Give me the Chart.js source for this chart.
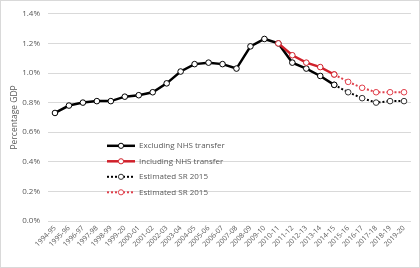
<!DOCTYPE html>
<html>
<head>
<meta charset="utf-8">
<script src="https://cdn.jsdelivr.net/npm/chart.js@4/dist/chart.umd.min.js"></script>
<style>
  html, body { margin: 0; padding: 0; background: #fff; }
  #wrap { width: 420px; height: 268px; box-sizing: border-box; border: 1px solid #d9d9d9; position: relative; }
  canvas { display: block; }
</style>
</head>
<body>
<div id="wrap"><canvas id="chart" width="418" height="266"></canvas></div>
<script>
// categorias (anos fiscais)
const anos = ['1994-95','1995-96','1996-97','1997-98','1998-99','1999-20','2000-01','2001-02','2002-03','2003-04',
  '2004-05','2005-06','2006-07','2007-08','2008-09','2009-10','2010-11','2011-12','2012-13','2013-14',
  '2014-15','2015-16','2016-17','2017-18','2018-19','2019-20'];

const semNHS = [0.73, 0.78, 0.80, 0.81, 0.81, 0.84, 0.85, 0.87, 0.93, 1.01,
  1.06, 1.07, 1.06, 1.03, 1.18, 1.23, 1.20, 1.07, 1.03, 0.98,
  0.92, null, null, null, null, null];
const comNHS = [null, null, null, null, null, null, null, null, null, null,
  null, null, null, null, null, null, 1.20, 1.12, 1.07, 1.04,
  0.99, null, null, null, null, null];
const estimadoSem = [null, null, null, null, null, null, null, null, null, null,
  null, null, null, null, null, null, null, null, null, null,
  0.92, 0.87, 0.83, 0.80, 0.81, 0.81];
const estimadoCom = [null, null, null, null, null, null, null, null, null, null,
  null, null, null, null, null, null, null, null, null, null,
  0.99, 0.94, 0.90, 0.87, 0.87, 0.87];

const nomes = ['Excluding NHS transfer', 'Including NHS transfer', 'Estimated SR 2015', 'Estimated SR 2015'];
const yTicks = [0, 0.2, 0.4, 0.6, 0.8, 1.0, 1.2, 1.4];

const fonte = '"Open Sans", "Liberation Sans", sans-serif';
const cinza = '#595959';

// legenda desenhada dentro da área do gráfico
const legendaInterna = {
  id: 'legendaInterna',
  afterDraw(chart) {
    const ctx = chart.ctx;
    const x0 = chart.chartArea.left + 59;
    let y = chart.chartArea.top + 132;
    ctx.save();
    ctx.font = '8px ' + fonte;
    ctx.textBaseline = 'middle';
    chart.data.datasets.forEach(ds => {
      ctx.strokeStyle = ds.borderColor;
      ctx.lineWidth = ds.borderWidth;
      ctx.setLineDash(ds.borderDash || []);
      ctx.beginPath();
      ctx.moveTo(x0, y);
      ctx.lineTo(x0 + 28, y);
      ctx.stroke();
      ctx.setLineDash([]);
      ctx.beginPath();
      ctx.arc(x0 + 14, y, 2.6, 0, Math.PI * 2);
      ctx.fillStyle = '#fff';
      ctx.fill();
      ctx.lineWidth = 1;
      ctx.strokeStyle = ds.pointBorderColor;
      ctx.stroke();
      ctx.fillStyle = cinza;
      ctx.fillText(ds.label, x0 + 32, y);
      y += 15.5;
    });
    ctx.restore();
  }
};

const ctx = document.getElementById('chart');
new Chart(ctx, {
  type: 'line',
  data: {
    labels: anos,
    datasets: [
      { label: nomes[0], data: semNHS, borderColor: '#000', borderWidth: 2.5, pointBackgroundColor: '#fff',
        pointBorderColor: '#000', pointBorderWidth: 1, pointRadius: 2.8, order: 1, tension: 0 },
      { label: nomes[1], data: comNHS, borderColor: '#d0202a', borderWidth: 2.5, pointBackgroundColor: '#fff',
        pointBorderColor: '#d0202a', pointBorderWidth: 1, pointRadius: 2.8, order: 0, tension: 0 },
      { label: nomes[2], data: estimadoSem, borderColor: '#000', borderWidth: 2, borderDash: [2, 2],
        pointBackgroundColor: '#fff', pointBorderColor: '#333', pointBorderWidth: 1, pointRadius: 2.8, order: 3, tension: 0 },
      { label: nomes[3], data: estimadoCom, borderColor: '#e0404c', borderWidth: 2, borderDash: [2, 2],
        pointBackgroundColor: '#fff', pointBorderColor: '#e0404c', pointBorderWidth: 1, pointRadius: 2.8, order: 2, tension: 0 }
    ]
  },
  options: {
    responsive: false,
    animation: false,
    spanGaps: false,
    layout: { padding: { top: 12, right: 8, left: 6, bottom: 0 } },
    plugins: { legend: { display: false }, tooltip: { enabled: false } },
    scales: {
      x: {
        offset: true,
        grid: { display: false, drawTicks: false },
        border: { display: false },
        ticks: { color: cinza, font: { family: fonte, size: 7 }, minRotation: 45, maxRotation: 45, autoSkip: false, padding: 3 },
        afterFit(scale) { scale.height = 46; }
      },
      y: {
        min: 0, max: 1.4,
        afterBuildTicks(scale) { scale.ticks = yTicks.map(v => ({ value: v })); },
        grid: { color: '#d9d9d9', drawTicks: false },
        border: { display: false },
        ticks: { color: cinza, font: { family: fonte, size: 8 }, padding: 8, callback: v => v.toFixed(1) + '%' },
        title: { display: true, text: 'Percentage GDP', color: cinza, font: { family: fonte, size: 8.5 }, padding: 2 },
        afterFit(scale) { scale.width = 41; }
      }
    }
  },
  plugins: [legendaInterna]
});
</script>
</body>
</html>
